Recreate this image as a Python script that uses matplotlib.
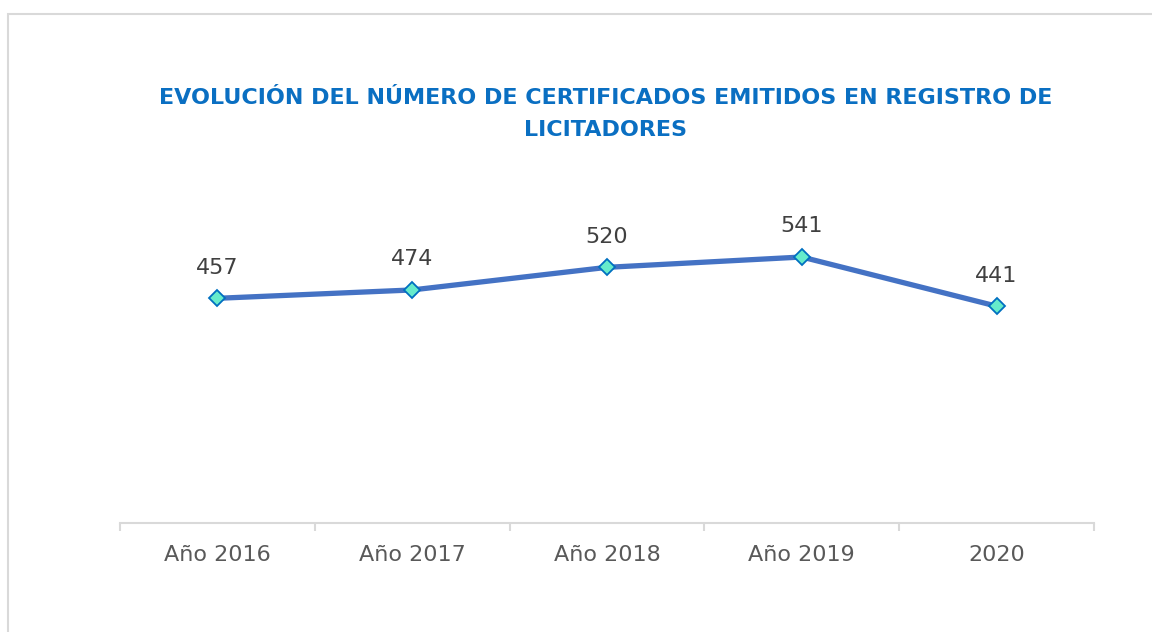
import matplotlib
matplotlib.use('Agg')
from matplotlib import pyplot as plt
from matplotlib.patches import Rectangle
import numpy as np

categories = ['Año 2016', 'Año 2017', 'Año 2018', 'Año 2019', '2020']
certificados = [457, 474, 520, 541, 441]
title = 'EVOLUCIÓN DEL NÚMERO DE CERTIFICADOS EMITIDOS EN REGISTRO DE\nLICITADORES'

W, H = 1152, 632
fig = plt.figure(figsize=(W / 100, H / 100), dpi=100)
fig.patch.set_facecolor('white')

# outer chart border (runs off the right and bottom edges)
fig.patches.append(Rectangle((8 / W, -0.05), 1.2, (H - 14) / H + 0.05,
                             transform=fig.transFigure, fill=False,
                             edgecolor='#d9d9d9', linewidth=1.5))

ax = fig.add_axes([120 / W, (H - 523) / H, 974 / W, 295 / H])
x = np.arange(len(categories))
ax.plot(x, certificados, color='#4472C4', linewidth=3.8, marker='D',
        markersize=8, markerfacecolor='#66EBCB', markeredgecolor='#0070C0',
        markeredgewidth=1.3, solid_capstyle='round', zorder=3)

for xi, v in zip(x, certificados):
    ax.annotate(str(v), (xi, v), xytext=(0, 22), textcoords='offset points',
                ha='center', va='center', fontsize=16, color='#404040')

ax.set_xlim(-0.5, len(categories) - 0.5)
ax.set_ylim(0, 600)
ax.set_yticks([])
ax.set_xticks(x)
ax.set_xticklabels(categories, fontsize=16, color='#595959')
ax.set_xticks(np.arange(len(categories) + 1) - 0.5, minor=True)
ax.tick_params(axis='x', which='major', length=0, pad=16)
ax.tick_params(axis='x', which='minor', length=6, width=1.5, color='#d9d9d9')
for side in ['top', 'right', 'left']:
    ax.spines[side].set_visible(False)
ax.spines['bottom'].set_color('#d9d9d9')
ax.spines['bottom'].set_linewidth(1.5)
ax.set_facecolor('none')

fig.text(606 / W, (H - 114) / H, title, ha='center', va='center',
         fontsize=16, fontweight='bold', color='#0A6FC2', linespacing=1.7)

fig.savefig('out.png', dpi=100)
